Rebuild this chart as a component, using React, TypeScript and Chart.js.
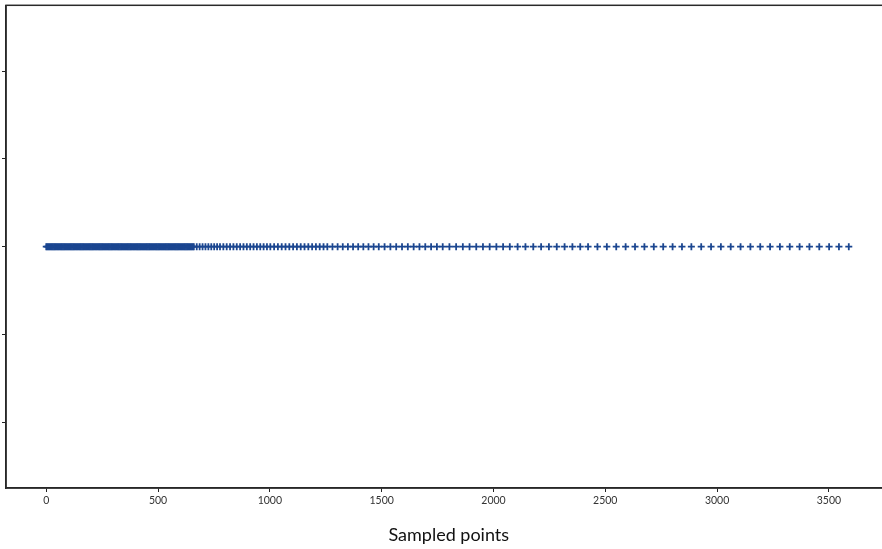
import React, { useEffect, useRef } from "react";
import { Chart, registerables } from "chart.js";

Chart.register(...registerables);

// Densely sampled region (x values)
const X_DENSE = [
  0, 5, 10, 15, 20, 25, 30, 35, 40, 45, 50, 55, 60, 65, 70, 75, 80, 85, 90, 95,
  100, 105, 110, 115, 120, 125, 130, 135, 140, 145, 150, 155, 160, 165, 170, 175, 180, 185, 190, 195,
  200, 205, 210, 215, 220, 225, 230, 235, 240, 245, 250, 255, 260, 265, 270, 275, 280, 285, 290, 295,
  300, 305, 310, 315, 320, 325, 330, 335, 340, 345, 350, 355, 360, 365, 370, 375, 380, 385, 390, 395,
  400, 405, 410, 415, 420, 425, 430, 435, 440, 445, 450, 455, 460, 465, 470, 475, 480, 485, 490, 495,
  500, 505, 510, 515, 520, 525, 530, 535, 540, 545, 550, 555, 560, 565, 570, 575, 580, 585, 590, 595,
  600, 605, 610, 615, 620, 625, 630, 635, 640, 645, 650, 655,
];

// Progressively sparser region (x values)
const X_SPARSE = [
  660, 673, 686, 699, 712, 725, 738, 751, 764, 777,
  792, 807, 822, 837, 852, 867, 882, 897, 912, 927, 942, 957, 972, 987, 1002,
  1019, 1036, 1053, 1070, 1087, 1104, 1121, 1138, 1155, 1172, 1189, 1206, 1223, 1240, 1257,
  1280, 1303, 1326, 1349, 1372, 1395, 1418, 1441, 1464, 1487,
  1513, 1539, 1565, 1591, 1617, 1643, 1669, 1695, 1721, 1747, 1773,
  1803, 1833, 1863, 1893, 1923, 1953, 1983, 2013, 2043, 2073,
  2108, 2143, 2178, 2213, 2248, 2283, 2318, 2353, 2388, 2423,
  2465, 2507, 2549, 2591, 2633, 2675, 2717, 2759, 2801, 2843, 2885,
  2929, 2973, 3017, 3061, 3105, 3149, 3193, 3237, 3281, 3325, 3369, 3413, 3457, 3501, 3545, 3589,
];

const Y_LEVEL = 0;
const X_TICKS = [0, 500, 1000, 1500, 2000, 2500, 3000, 3500];
const Y_TICKS = [-0.04, -0.02, 0, 0.02, 0.04];
const X_TITLE = "Sampled points";

const framePlugin = {
  id: "frame",
  afterDraw(chart: any) {
    const { ctx, chartArea: a } = chart;
    ctx.save();
    ctx.strokeStyle = "#2a2a2a";
    ctx.lineWidth = 1.5;
    ctx.strokeRect(a.left, a.top, a.right - a.left, a.bottom - a.top);
    ctx.restore();
  },
};

export default function App() {
  const ref = useRef<HTMLCanvasElement>(null);

  useEffect(() => {
    document.body.style.margin = "0";
    const points = X_DENSE.concat(X_SPARSE).map((x) => ({ x, y: Y_LEVEL }));
    const chart = new Chart(ref.current as HTMLCanvasElement, {
      type: "scatter",
      data: {
        datasets: [
          {
            data: points,
            pointStyle: "cross",
            pointRadius: 3.5,
            pointHoverRadius: 3.5,
            borderColor: "#1b4690",
            backgroundColor: "#1b4690",
            borderWidth: 1.8,
          },
        ],
      },
      options: {
        animation: false,
        responsive: false,
        events: [],
        layout: { padding: { top: 5, right: 8.5, left: 0, bottom: 0 } },
        plugins: { legend: { display: false }, tooltip: { enabled: false } },
        scales: {
          x: {
            type: "linear",
            min: -180,
            max: 3780,
            afterBuildTicks: (s: any) => {
              s.ticks = X_TICKS.map((v) => ({ value: v }));
            },
            afterFit: (s: any) => {
              s.height = 61;
            },
            grid: { drawOnChartArea: false, drawTicks: true, tickLength: 4, color: "#222", lineWidth: 1 },
            border: { display: true, color: "#222", width: 1.5 },
            ticks: {
              font: { family: "Lato", size: 10.5 },
              color: "#333",
              padding: 2,
              maxRotation: 0,
              autoSkip: false,
              callback: (v: any) => String(v),
            },
            title: {
              display: true,
              text: X_TITLE,
              font: { family: "Lato", size: 18 },
              color: "#111",
              padding: { top: 0, bottom: 3 },
            },
          },
          y: {
            type: "linear",
            min: -0.055,
            max: 0.055,
            afterBuildTicks: (s: any) => {
              s.ticks = Y_TICKS.map((v) => ({ value: v }));
            },
            afterFit: (s: any) => {
              s.width = 6;
            },
            grid: { drawOnChartArea: false, drawTicks: true, tickLength: 4, color: "#222", lineWidth: 1 },
            border: { display: true, color: "#222", width: 1.5 },
            ticks: { display: false },
          },
        },
      },
      plugins: [framePlugin],
    } as any);
    return () => chart.destroy();
  }, []);

  return (
    <div style={{ width: 882, height: 549, overflow: "hidden", position: "relative" }}>
      <canvas ref={ref} width={900} height={549} style={{ display: "block" }} />
    </div>
  );
}
